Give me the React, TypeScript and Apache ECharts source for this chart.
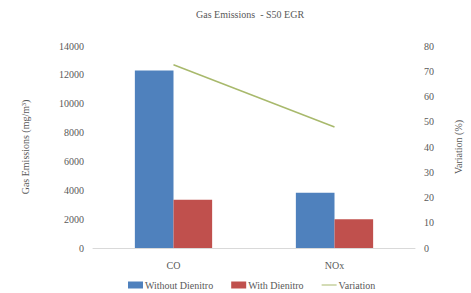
import React, { useEffect, useRef } from "react";
import * as echarts from "echarts";

const categories = ["CO", "NOx"];
const withoutDienitro = [12300, 3830];
const withDienitro = [3350, 1990];
const variation = [72.6, 47.9];
const leftTicks = [0, 14000, 2000];
const rightTicks = [0, 80, 10];

const FONT = "'Liberation Serif', 'Times New Roman', serif";
const GRAY = "#595959";

export default function App() {
  const ref = useRef<HTMLDivElement>(null);
  useEffect(() => {
    if (!ref.current) return;
    const chart = echarts.init(ref.current, undefined, { renderer: "svg" });
    chart.setOption({
      animation: false,
      backgroundColor: "#ffffff",
      textStyle: { fontFamily: FONT, color: GRAY },
      title: {
        text: "Gas Emissions  - S50 EGR",
        left: 191,
        top: 4,
        textStyle: { fontFamily: FONT, fontSize: 10, fontWeight: "normal", color: GRAY },
      },
      grid: { left: 93, right: 52, top: 46, bottom: 45 },
      legend: {
        left: 123,
        top: 275,
        itemWidth: 15,
        itemHeight: 7,
        itemGap: 18,
        textStyle: { fontFamily: FONT, fontSize: 10, color: GRAY, padding: [0, 0, 0, -3] },
        data: [
          { name: "Without Dienitro", icon: "rect" },
          { name: "With Dienitro", icon: "rect" },
          { name: "Variation", icon: "path://M0 0H30V2H0Z" },
        ],
      },
      xAxis: {
        type: "category",
        data: categories,
        axisLine: { lineStyle: { color: "#d9d9d9" } },
        axisTick: { show: false },
        axisLabel: { fontFamily: FONT, fontSize: 10, color: GRAY, margin: 12 },
      },
      yAxis: [
        {
          type: "value",
          min: leftTicks[0],
          max: leftTicks[1],
          interval: leftTicks[2],
          name: "Gas Emissions (mg/m³)",
          nameLocation: "middle",
          nameRotate: 90,
          nameGap: 63,
          nameTextStyle: { fontFamily: FONT, fontSize: 10, color: GRAY },
          splitLine: { show: false },
          axisLine: { show: false },
          axisTick: { show: false },
          axisLabel: {
            fontFamily: FONT,
            fontSize: 10,
            color: GRAY,
            margin: 9,
            formatter: (v: number) => String(v),
          },
        },
        {
          type: "value",
          min: rightTicks[0],
          max: rightTicks[1],
          interval: rightTicks[2],
          name: "Variation (%)",
          nameLocation: "middle",
          nameRotate: 90,
          nameGap: 38,
          nameTextStyle: { fontFamily: FONT, fontSize: 10, color: GRAY },
          splitLine: { show: false },
          axisLine: { show: false },
          axisTick: { show: false },
          axisLabel: {
            fontFamily: FONT,
            fontSize: 10,
            color: GRAY,
            margin: 9,
            formatter: (v: number) => String(v),
          },
        },
      ],
      series: [
        {
          name: "Without Dienitro",
          type: "bar",
          data: withoutDienitro,
          barWidth: "24%",
          barGap: "0%",
          itemStyle: { color: "#4F81BD" },
        },
        {
          name: "With Dienitro",
          type: "bar",
          data: withDienitro,
          barWidth: "24%",
          barGap: "0%",
          itemStyle: { color: "#C0504D" },
        },
        {
          name: "Variation",
          type: "line",
          yAxisIndex: 1,
          data: variation,
          symbol: "none",
          showSymbol: false,
          lineStyle: { color: "#A8B96C", width: 1.5 },
          itemStyle: { color: "#A8B96C" },
        },
      ],
    });
    return () => chart.dispose();
  }, []);
  return (
    <div
      ref={ref}
      style={{ position: "fixed", left: 0, top: 0, width: 471, height: 293 }}
    />
  );
}
